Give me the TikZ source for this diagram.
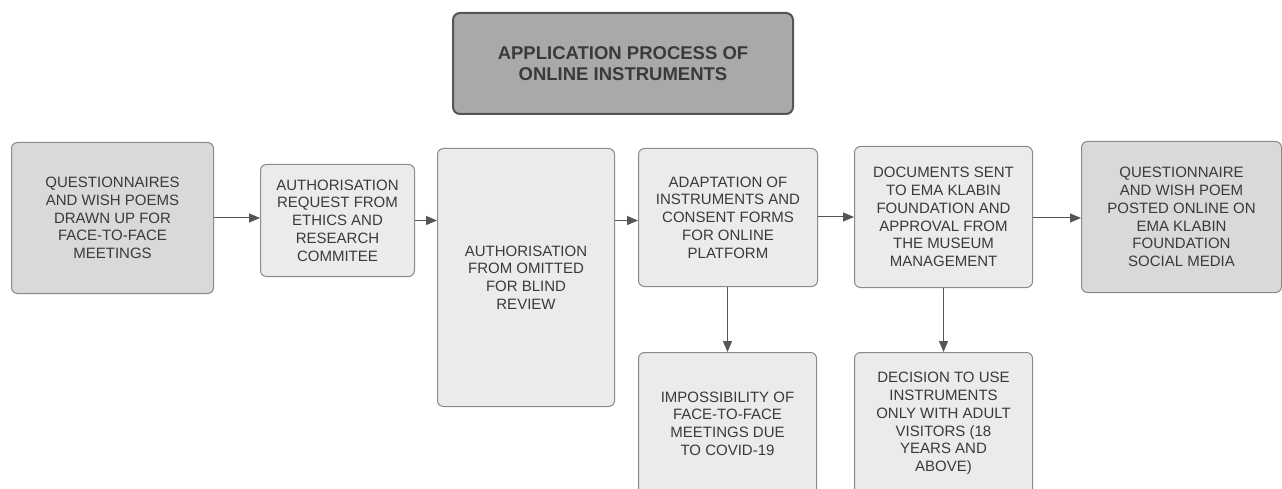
\documentclass[tikz,border=0pt]{standalone}
\usepackage{fontspec}
\setmainfont{Liberation Sans}
\usetikzlibrary{arrows.meta}
\definecolor{txt}{HTML}{3A3A3A}
\definecolor{edge}{HTML}{8A8A8A}
\definecolor{lightfill}{HTML}{EBEBEB}
\definecolor{midfill}{HTML}{D9D9D9}
\definecolor{titlefill}{HTML}{A9A9A9}
\definecolor{arrowc}{HTML}{555555}
\tikzset{
  box/.style={draw=edge, line width=1pt, rounded corners=6pt, fill=lightfill,
    anchor=north west, align=center, text=txt, inner sep=0pt,
    font=\fontsize{15}{17.7}\selectfont},
  darkbox/.style={box, fill=midfill},
  titlebox/.style={draw=arrowc, line width=2pt, rounded corners=7pt, fill=titlefill,
    anchor=north west, align=center, text=txt, inner sep=0pt,
    font=\fontsize{18.5}{21.7}\selectfont\bfseries},
  conn/.style={draw=arrowc, line width=1pt, -{Triangle[length=11pt,width=9pt]}}
}
\begin{document}
\begin{tikzpicture}[x=1pt,y=-1pt]
\useasboundingbox (0,0) rectangle (1282,489);
\clip (0,0) rectangle (1282,489);
\node[titlebox, minimum width=340pt, minimum height=101pt] (title) at (452,12)
  {APPLICATION PROCESS OF\\ONLINE INSTRUMENTS};
\node[darkbox, minimum width=202pt, minimum height=151pt] (b1) at (11,142)
  {QUESTIONNAIRES\\AND WISH POEMS\\DRAWN UP FOR\\FACE-TO-FACE\\MEETINGS};
\node[box, minimum width=154pt, minimum height=112pt] (b2) at (260,164)
  {AUTHORISATION\\REQUEST FROM\\ETHICS AND\\RESEARCH\\COMMITEE};
\node[box, minimum width=177pt, minimum height=258pt] (b3) at (437,148)
  {AUTHORISATION\\FROM OMITTED\\FOR BLIND\\REVIEW};
\node[box, minimum width=179pt, minimum height=138pt] (b4) at (638,148)
  {ADAPTATION OF\\INSTRUMENTS AND\\CONSENT FORMS\\FOR ONLINE\\PLATFORM};
\node[box, minimum width=178pt, minimum height=141pt] (b5) at (854,146)
  {DOCUMENTS SENT\\TO EMA KLABIN\\FOUNDATION AND\\APPROVAL FROM\\THE MUSEUM\\MANAGEMENT};
\node[darkbox, minimum width=200pt, minimum height=151pt] (b6) at (1081,141)
  {QUESTIONNAIRE\\AND WISH POEM\\POSTED ONLINE ON\\EMA KLABIN\\FOUNDATION\\SOCIAL MEDIA};
\node[box, minimum width=178pt, minimum height=142pt] (b7) at (638,352)
  {IMPOSSIBILITY OF\\FACE-TO-FACE\\MEETINGS DUE\\TO COVID-19};
\node[box, minimum width=178pt, minimum height=142pt] (b8) at (854,352)
  {DECISION TO USE\\INSTRUMENTS\\ONLY WITH ADULT\\VISITORS (18\\YEARS AND\\ABOVE)};
\draw[conn] (b1.east) -- (b1.east -| b2.west);
\draw[conn] (b2.east) -- (b2.east -| b3.west);
\draw[conn] (b3.east |- b2.east) -- (b4.west |- b2.east);
\draw[conn] (b4.east |- b5.east) -- (b5.west);
\draw[conn] (b5.east |- b1.east) -- (b6.west |- b1.east);
\draw[conn] (b7.north |- b4.south) -- (b7.north);
\draw[conn] (b5.south) -- (b8.north);
\end{tikzpicture}
\end{document}
